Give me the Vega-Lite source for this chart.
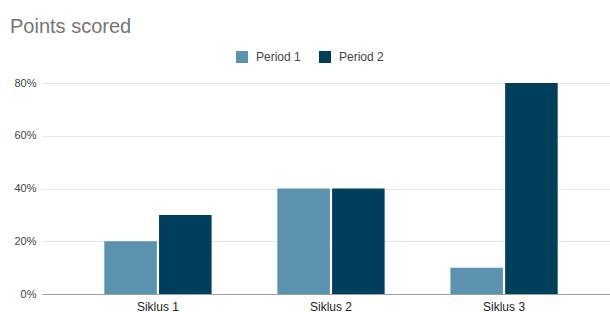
{
  "$schema": "https://vega.github.io/schema/vega-lite/v6.json",
  "autosize": "none",
  "width": 578,
  "height": 211,
  "padding": {"left": 42, "top": 83, "right": 0, "bottom": 18},
  "background": "white",
  "title": {
    "text": "Points scored",
    "anchor": "start",
    "frame": "group",
    "dx": -32,
    "offset": 14,
    "fontSize": 20,
    "fontWeight": "normal",
    "font": "Liberation Sans",
    "color": "#757575"
  },
  "data": {
    "values": [
      {"cycle": "Siklus 1", "period": "Period 1", "value": 0.2},
      {"cycle": "Siklus 1", "period": "Period 2", "value": 0.3},
      {"cycle": "Siklus 2", "period": "Period 1", "value": 0.4},
      {"cycle": "Siklus 2", "period": "Period 2", "value": 0.4},
      {"cycle": "Siklus 3", "period": "Period 1", "value": 0.1},
      {"cycle": "Siklus 3", "period": "Period 2", "value": 0.8}
    ]
  },
  "mark": {"type": "bar"},
  "encoding": {
    "x": {
      "field": "cycle",
      "type": "nominal",
      "title": null,
      "scale": {"paddingInner": 0.38, "paddingOuter": 0.36},
      "axis": {
        "labelAngle": 0,
        "ticks": false,
        "domainColor": "#9e9e9e",
        "labelFont": "Liberation Sans",
        "labelFontSize": 12,
        "labelColor": "#222222",
        "labelPadding": 7
      }
    },
    "xOffset": {
      "field": "period",
      "type": "nominal",
      "scale": {"paddingInner": 0.04}
    },
    "y": {
      "field": "value",
      "type": "quantitative",
      "title": null,
      "scale": {"domain": [0, 0.8]},
      "axis": {
        "values": [0, 0.2, 0.4, 0.6, 0.8],
        "format": ".0%",
        "domain": false,
        "ticks": false,
        "gridColor": "#e6e6e6",
        "labelFont": "Liberation Sans",
        "labelFontSize": 11,
        "labelColor": "#444444",
        "labelPadding": 6
      }
    },
    "color": {
      "field": "period",
      "type": "nominal",
      "scale": {"range": ["#5a92af", "#003f5c"]},
      "legend": {
        "title": null,
        "orient": "none",
        "direction": "horizontal",
        "legendX": 194,
        "legendY": -32,
        "symbolType": "square",
        "symbolSize": 144,
        "symbolStrokeWidth": 0,
        "labelFont": "Liberation Sans",
        "labelFontSize": 12,
        "labelColor": "#444444",
        "columnPadding": 18,
        "labelOffset": 8
      }
    }
  },
  "config": {"view": {"stroke": null}}
}
